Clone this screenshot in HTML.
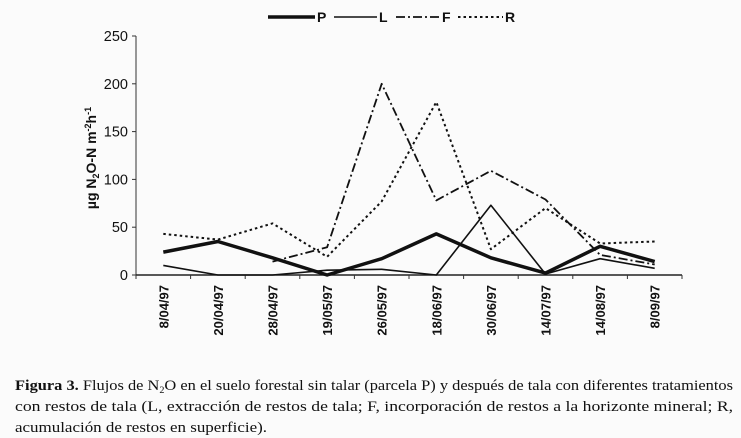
<!DOCTYPE html>
<html><head><meta charset="utf-8"><style>
html,body{margin:0;padding:0;background:#fff;}
svg{display:block;}
</style></head><body>
<svg id="chart" width="741" height="438" xmlns="http://www.w3.org/2000/svg" font-family="Liberation Sans, Arial, sans-serif">
<rect width="741" height="438" fill="#fbfbfb"/>
<g id="legend" font-size="14" font-weight="bold" fill="#111">
  <g><line x1="268" y1="17" x2="315" y2="17" stroke="#111" stroke-width="3.5"/><text x="317" y="22">P</text></g>
  <g><line x1="334" y1="17" x2="377" y2="17" stroke="#111" stroke-width="1.6"/><text x="379" y="22">L</text></g>
  <g><line x1="396" y1="17" x2="440" y2="17" stroke="#111" stroke-width="1.8" stroke-dasharray="9,3,2,3"/><text x="442" y="22">F</text></g>
  <g><line x1="458" y1="17" x2="503" y2="17" stroke="#111" stroke-width="2" stroke-dasharray="2.5,3"/><text x="505" y="22">R</text></g>
</g>
<text transform="translate(96,158) rotate(-90)" text-anchor="middle" font-size="14" font-weight="bold" fill="#111">µg N<tspan font-size="9" dy="3">2</tspan><tspan dy="-3">O-N m</tspan><tspan font-size="9" dy="-5">-2</tspan><tspan dy="5">h</tspan><tspan font-size="9" dy="-5">-1</tspan></text>
<g id="axes"></g>
<g id="series"></g>
<g font-family="Liberation Serif, Times New Roman, serif" font-size="14.5" fill="#111">
  <text x="15" y="390" textLength="718" lengthAdjust="spacingAndGlyphs"><tspan font-weight="bold">Figura 3.</tspan> Flujos de N<tspan font-size="9" dy="3">2</tspan><tspan dy="-3">O en el suelo forestal sin talar (parcela P) y después de tala con diferentes tratamientos</tspan></text>
  <text x="15" y="411" textLength="718" lengthAdjust="spacingAndGlyphs">con restos de tala (L, extracción de restos de tala; F, incorporación de restos a la horizonte mineral; R,</text>
  <text x="15" y="432" textLength="252" lengthAdjust="spacingAndGlyphs">acumulación de restos en superficie).</text>
</g>
</svg>
<script>
const categories = ["8/04/97","20/04/97","28/04/97","19/05/97","26/05/97","18/06/97","30/06/97","14/07/97","14/08/97","8/09/97"];
const seriesP = [24,35,18,0,17,43,18,2,30,14];
const seriesL = [10,0,0,5,6,0,73,1,17,7];
const seriesF = [null,null,14,29,200,78,109,79,21,11];
const seriesR = [43,37,54,19,77,181,27,70,33,35];
const yTicks = [0,50,100,150,200,250];

const NS = "http://www.w3.org/2000/svg";
const x0 = 136, step = 54.6, yZero = 275, yTop = 36, yMax = 250;
function xPos(i){ return x0 + step*(i+0.5); }
function yPos(v){ return yZero - (v/yMax)*(yZero-yTop); }
function mk(tag, attrs, parent){ const e=document.createElementNS(NS,tag); for(const k in attrs) e.setAttribute(k,attrs[k]); parent.appendChild(e); return e; }

const axes = document.getElementById('axes');
const yAxis = mk('line',{x1:x0,y1:yTop,x2:x0,y2:yZero,stroke:'#333','stroke-width':1},axes);


const xAxis = mk('line',{x1:x0,y1:yZero,x2:x0+step*categories.length,y2:yZero,stroke:'#222','stroke-width':1.5},axes);


yTicks.forEach(v=>{
  const y=yPos(v);
  mk('line',{x1:x0-4,y1:y,x2:x0,y2:y,stroke:'#333'},axes);
  const t=mk('text',{x:x0-8,y:y+5,'text-anchor':'end','font-size':14.5,fill:'#111'},axes);
  t.textContent=v;
  
  
});
for(let i=0;i<=categories.length;i++){
  const x=x0+step*i;
  mk('line',{x1:x,y1:yZero,x2:x,y2:yZero+4,stroke:'#333'},axes);
}
categories.forEach((c,i)=>{
  const x=xPos(i);
  const t=mk('text',{transform:`translate(${x+5},${yZero+10}) rotate(-90)`,'text-anchor':'end','font-size':13,'font-weight':'bold',fill:'#111'},axes);
  t.textContent=c;
  
  
});

const series = document.getElementById('series');
function drawLine(vals, name, w, dash){
  let d=''; let pen=false;
  vals.forEach((v,i)=>{ if(v===null){pen=false;return;} d+=(pen?'L':'M')+xPos(i).toFixed(1)+','+yPos(v).toFixed(1); pen=true; });
  const p=mk('path',{d:d,fill:'none',stroke:'#111','stroke-width':w,'stroke-linejoin':'round'},series);
  if(dash) p.setAttribute('stroke-dasharray',dash);
  
  
}
drawLine(seriesR,'series-r-line',2,'2.5,3');
drawLine(seriesF,'series-f-line',1.8,'9,3,2,3');
drawLine(seriesL,'series-l-line',1.6,null);
drawLine(seriesP,'series-p-line',3.5,null);
</script>
</body></html>
